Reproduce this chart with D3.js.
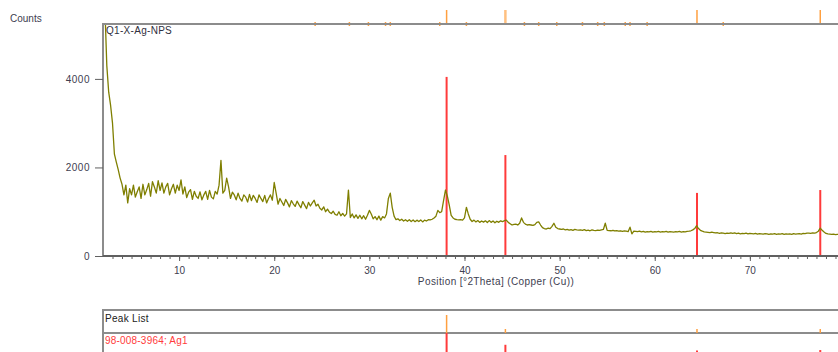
<!DOCTYPE html>
<html>
<head>
<meta charset="utf-8">
<script src="https://cdn.jsdelivr.net/npm/d3@7"></script>
<style>
  html, body { margin: 0; padding: 0; background: #fff; }
  svg { display: block; font-family: "Liberation Sans", Arial, sans-serif; }
</style>
</head>
<body>
<svg id="chart" width="838" height="352"></svg>
<script>
// scan grid: 2.2 .. 80.0 °2Theta, 0.2° per step
const scanStart = 2.2;
const scanStep = 0.2;
const counts = [
  5600, 4300, 3700, 3400, 3000, 2300, 2120, 1950, 1760, 1620,
  1380, 1600, 1200, 1520, 1380, 1600, 1330, 1450, 1560, 1300,
  1620, 1380, 1500, 1640, 1350, 1680, 1560, 1420, 1700, 1480,
  1650, 1420, 1560, 1640, 1380, 1520, 1620, 1420, 1600, 1480,
  1720, 1400, 1560, 1320, 1440, 1500, 1280, 1460, 1350, 1300,
  1450, 1270, 1380, 1460, 1280, 1480, 1330, 1290, 1460, 1400,
  1600, 2160, 1420, 1480, 1760, 1560, 1300, 1440, 1380, 1270,
  1420, 1300, 1240, 1380, 1330, 1220, 1390, 1250, 1370, 1300,
  1210, 1380, 1300, 1230, 1370, 1200, 1300, 1380, 1260, 1660,
  1420, 1170, 1300, 1220, 1140, 1280, 1200, 1110, 1250, 1180,
  1120, 1240, 1160, 1090, 1230, 1150, 1070, 1210, 1130, 1200,
  1260, 1130, 1170, 1080, 1040, 1110, 1000, 1060, 990, 960,
  1010, 940, 920, 1000, 910, 960, 900, 950, 1490, 870,
  950, 860, 930, 850, 920, 840, 910, 830, 920, 1030,
  950, 840, 890, 820, 900, 810, 890, 860, 950, 1300,
  1420, 1100, 900, 820, 840, 800, 830, 790, 820, 785,
  820, 780, 815, 775, 810, 780, 815, 770, 810, 790,
  820, 815, 830, 860, 900, 1030, 980, 1000, 1250, 1490,
  1350, 1150, 920, 860, 830, 820, 815, 820, 810, 860,
  1100, 950, 830, 780, 810, 770, 800, 760, 790, 765,
  795, 755, 800, 760, 790, 750, 785, 760, 795, 775,
  800, 810, 760, 730, 700, 715, 720, 700, 740, 860,
  760, 720, 700, 710, 700, 690, 710, 760, 770, 700,
  640, 620, 610, 630, 620, 670, 740, 650, 620, 610,
  600, 610, 590, 600, 585, 595, 580, 600, 590, 585,
  590, 580, 595, 575, 585, 570, 590, 580, 575, 585,
  580, 590, 600, 740, 580, 575, 570, 580, 565, 575,
  560, 570, 555, 565, 560, 550, 650, 500, 560, 555,
  550, 560, 545, 555, 540, 550, 545, 555, 540, 550,
  545, 555, 540, 550, 545, 555, 540, 550, 545, 540,
  550, 545, 555, 540, 550, 545, 555, 560, 570, 590,
  620, 685, 620, 580, 560, 545, 540, 535, 530, 540,
  530, 520, 525, 510, 520, 515, 505, 515, 510, 520,
  510, 520, 505, 515, 500, 510, 505, 515, 500, 510,
  505, 500, 510, 495, 505, 500, 495, 505, 500, 490,
  500, 495, 505, 490, 500, 495, 505, 490, 500, 495,
  500, 490, 505, 495, 500, 505, 495, 510, 505, 515,
  515, 510, 520, 515, 530, 560, 630, 580, 540, 510,
  500, 495, 490, 495, 485, 490, 480, 490, 485, 480
];

// reference pattern 98-008-3964; Ag1
const refPositions = [38.12, 44.30, 64.44, 77.40];
const refCounts = [4045, 2280, 1425, 1490];

// peak list markers along the top frame
const peakListPositions = [24.3, 27.9, 29.9, 31.7, 32.2, 37.4, 40.2, 46.3, 47.8, 49.7,
  52.4, 54.0, 54.7, 56.9, 57.4, 59.2, 67.2];

const xTicks = [10, 20, 30, 40, 50, 60, 70];
const yTicks = [0, 2000, 4000];

const svg = d3.select('#chart');

const plotLeft = 103, plotTop = 24, plotBottom = 256, plotRight = 845;
const x = d3.scaleLinear().domain([2, 80]).range([plotLeft, plotRight]);
const y = d3.scaleLinear().domain([0, 5240]).range([plotBottom, plotTop]);

const scan = counts.map((c, i) => ({ angle: scanStart + i * scanStep, value: c }));

// orange markers above the frame
svg.append('g')
  .selectAll('line')
  .data(refPositions)
  .enter()
  .append('line')
  .attr('x1', (d) => x(d)).attr('x2', (d) => x(d))
  .attr('y1', 10).attr('y2', plotTop)
  .attr('stroke', (d, i) => (i === 1 ? '#ffc080' : '#ffa040'))
  .attr('stroke-width', (d, i) => (i === 1 ? 2.5 : 1.5));

svg.append('g')
  .selectAll('line')
  .data(peakListPositions)
  .enter()
  .append('line')
  .attr('x1', (d) => x(d)).attr('x2', (d) => x(d))
  .attr('y1', plotTop - 2).attr('y2', plotTop + 2)
  .attr('stroke', '#ffa040')
  .attr('stroke-width', 1.5);

// clip for the scan
svg.append('clipPath').attr('id', 'plotClip')
  .append('rect')
  .attr('x', plotLeft).attr('y', plotTop)
  .attr('width', plotRight - plotLeft).attr('height', plotBottom - plotTop);

// reference sticks in the main plot
svg.append('g')
  .selectAll('line')
  .data(refPositions)
  .enter()
  .append('line')
  .attr('x1', (d) => x(d)).attr('x2', (d) => x(d))
  .attr('y1', y(0)).attr('y2', (d, i) => y(refCounts[i]))
  .attr('stroke', '#ff3b3b')
  .attr('stroke-width', 2);

const line = d3.line()
  .x((d) => x(d.angle))
  .y((d) => y(d.value));

svg.append('path')
  .datum(scan)
  .attr('clip-path', 'url(#plotClip)')
  .attr('fill', 'none')
  .attr('stroke', '#7f7f00')
  .attr('stroke-width', 1.3)
  .attr('stroke-linejoin', 'round')
  .attr('d', line);

// frame
svg.append('line')
  .attr('x1', plotLeft).attr('x2', 838).attr('y1', plotTop).attr('y2', plotTop)
  .attr('stroke', '#8c8c8c').attr('stroke-width', 2);
svg.append('line')
  .attr('x1', plotLeft).attr('x2', plotLeft).attr('y1', plotTop - 1).attr('y2', plotBottom)
  .attr('stroke', '#8c8c8c').attr('stroke-width', 2);

// x axis: minor ticks then labelled ticks
svg.append('g')
  .attr('transform', `translate(0, ${plotBottom})`)
  .call(d3.axisBottom(x).tickValues(d3.range(3, 80)).tickSize(3).tickFormat(''))
  .call((g) => g.select('.domain').remove())
  .call((g) => g.selectAll('line').attr('stroke', '#606060'));

svg.append('g')
  .attr('transform', `translate(0, ${plotBottom})`)
  .call(d3.axisBottom(x).tickValues(xTicks).tickSize(5).tickPadding(6).tickFormat(d3.format('d')))
  .call((g) => g.select('.domain').attr('d', `M${plotLeft},0H${plotRight}`).attr('stroke', '#606060').attr('stroke-width', 2))
  .call((g) => g.selectAll('line').attr('stroke', '#606060'))
  .call((g) => g.selectAll('text')
    .attr('fill', '#404050').attr('font-size', 10).attr('font-family', '"Liberation Sans", Arial, sans-serif'));

svg.append('g')
  .attr('transform', `translate(${plotLeft}, 0)`)
  .call(d3.axisLeft(y).tickValues(yTicks).tickSize(8).tickPadding(5).tickFormat(d3.format('d')))
  .call((g) => g.select('.domain').remove())
  .call((g) => g.selectAll('line').attr('stroke', '#606060'))
  .call((g) => g.selectAll('text')
    .attr('fill', '#404050').attr('font-size', 10).attr('letter-spacing', 0.5)
    .attr('font-family', '"Liberation Sans", Arial, sans-serif'));

// texts
svg.append('text')
  .attr('x', 10).attr('y', 22)
  .attr('font-size', 10).attr('fill', '#404050')
  .text('Counts');

svg.append('text')
  .attr('x', 106).attr('y', 34)
  .attr('font-size', 10).attr('fill', '#303040').attr('letter-spacing', 0.3)
  .text('Q1-X-Ag-NPS');

svg.append('text')
  .attr('x', 496).attr('y', 285)
  .attr('text-anchor', 'middle')
  .attr('font-size', 10).attr('fill', '#404050').attr('letter-spacing', 0.4)
  .text('Position [°2Theta] (Copper (Cu))');

// lower panel: peak list and reference pattern
const panelTop = 310, rowLine = 333, stickBase = 360;
const stick = d3.scaleLinear().domain([0, d3.max(refCounts)]).range([stickBase, rowLine]);

svg.append('line')
  .attr('x1', plotLeft).attr('x2', 838).attr('y1', panelTop).attr('y2', panelTop)
  .attr('stroke', '#8c8c8c').attr('stroke-width', 2);
svg.append('line')
  .attr('x1', plotLeft).attr('x2', 838).attr('y1', rowLine).attr('y2', rowLine)
  .attr('stroke', '#8c8c8c').attr('stroke-width', 2);
svg.append('line')
  .attr('x1', plotLeft).attr('x2', plotLeft).attr('y1', panelTop - 1).attr('y2', 352)
  .attr('stroke', '#8c8c8c').attr('stroke-width', 2);

svg.append('g')
  .selectAll('line')
  .data(refPositions)
  .enter()
  .append('line')
  .attr('x1', (d) => x(d)).attr('x2', (d) => x(d))
  .attr('y1', (d, i) => (i === 0 ? 315 : rowLine - 4)).attr('y2', rowLine)
  .attr('stroke', '#ffa040')
  .attr('stroke-width', 1.5);

svg.append('g')
  .selectAll('line')
  .data(refPositions)
  .enter()
  .append('line')
  .attr('x1', (d) => x(d)).attr('x2', (d) => x(d))
  .attr('y1', stickBase).attr('y2', (d, i) => stick(refCounts[i]))
  .attr('stroke', '#ff3b3b')
  .attr('stroke-width', 2);

svg.append('text')
  .attr('x', 105).attr('y', 322)
  .attr('font-size', 10).attr('fill', '#202020').attr('letter-spacing', 0.3)
  .text('Peak List');

svg.append('text')
  .attr('x', 105).attr('y', 344)
  .attr('font-size', 10).attr('fill', '#ff3b3b').attr('letter-spacing', 0.2)
  .text('98-008-3964; Ag1');
</script>
</body>
</html>
